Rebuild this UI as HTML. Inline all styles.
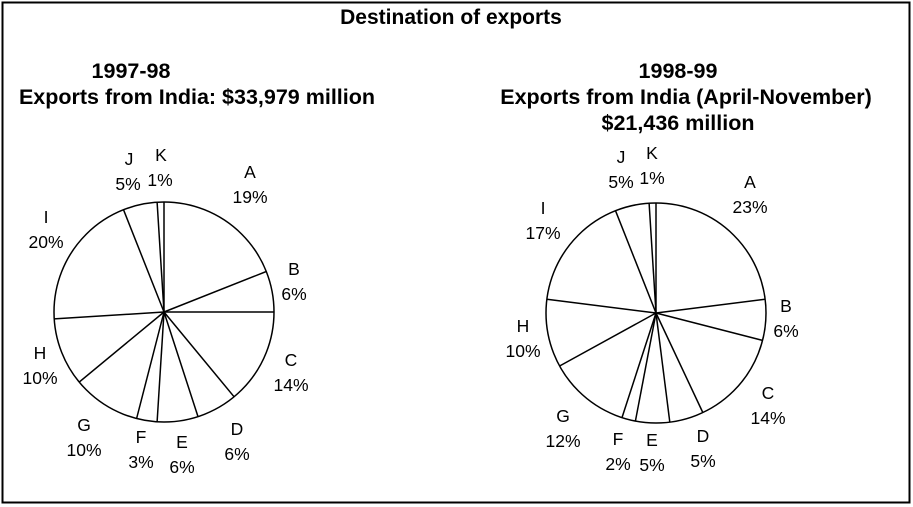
<!DOCTYPE html>
<html><head><meta charset="utf-8"><style>
body{margin:0;background:#fff;}
svg{display:block;font-family:"Liberation Sans",Arial,sans-serif;}
.b{font-weight:bold;font-size:21.5px;}
.l{font-size:17.5px;}
</style></head><body>
<svg id="s" width="913" height="507" viewBox="0 0 913 507">
<rect x="2.5" y="2.5" width="907" height="500" fill="#fff" stroke="#000" stroke-width="2"/>
<text x="451" y="24" class="b" text-anchor="middle" style="font-size:21px">Destination of exports</text>
<text x="131" y="78" class="b" text-anchor="middle">1997-98</text>
<text x="197" y="104" class="b" text-anchor="middle">Exports from India: $33,979 million</text>
<text x="678" y="78" class="b" text-anchor="middle">1998-99</text>
<text x="686" y="104" class="b" text-anchor="middle">Exports from India (April-November)</text>
<text x="678" y="130" class="b" text-anchor="middle">$21,436 million</text>
<g class="l" text-anchor="middle">
<text x="129" y="165">J</text><text x="128" y="190">5%</text>
<text x="161" y="161">K</text><text x="160" y="186">1%</text>
<text x="250" y="178">A</text><text x="250" y="203">19%</text>
<text x="294" y="275">B</text><text x="294" y="300">6%</text>
<text x="291" y="366">C</text><text x="291" y="391">14%</text>
<text x="237" y="435">D</text><text x="237" y="460">6%</text>
<text x="182" y="448">E</text><text x="182" y="473">6%</text>
<text x="141" y="443">F</text><text x="141" y="468">3%</text>
<text x="84" y="431">G</text><text x="84" y="456">10%</text>
<text x="40" y="359">H</text><text x="40" y="384">10%</text>
<text x="46" y="223">I</text><text x="46" y="248">20%</text>

<text x="621" y="163">J</text><text x="621" y="188">5%</text>
<text x="652" y="159">K</text><text x="652" y="184">1%</text>
<text x="750" y="188">A</text><text x="750" y="213">23%</text>
<text x="786" y="312">B</text><text x="786" y="337">6%</text>
<text x="768" y="399">C</text><text x="768" y="424">14%</text>
<text x="703" y="442">D</text><text x="703" y="467">5%</text>
<text x="652" y="446">E</text><text x="652" y="471">5%</text>
<text x="618" y="445">F</text><text x="618" y="470">2%</text>
<text x="563" y="422">G</text><text x="563" y="447">12%</text>
<text x="523" y="332">H</text><text x="523" y="357">10%</text>
<text x="543" y="214">I</text><text x="543" y="239">17%</text>
</g>
<g id="p" fill="none" stroke="#000" stroke-width="1.5"></g>
</svg>
<script>
function pie(cx,cy,r,v){
 var g=document.getElementById('p'),h='<circle cx="'+cx+'" cy="'+cy+'" r="'+r+'"/>',a=0;
 for(var i=0;i<v.length;i++){var t=a/100*2*Math.PI;
  h+='<line x1="'+cx+'" y1="'+cy+'" x2="'+(cx+r*Math.sin(t)).toFixed(1)+'" y2="'+(cy-r*Math.cos(t)).toFixed(1)+'"/>';a+=v[i];}
 g.innerHTML+=h;
}
pie(164,312,110,[19,6,14,6,6,3,10,10,20,5,1]);
pie(656,313,110,[23,6,14,5,5,2,12,10,17,5,1]);
</script>
</body></html>
